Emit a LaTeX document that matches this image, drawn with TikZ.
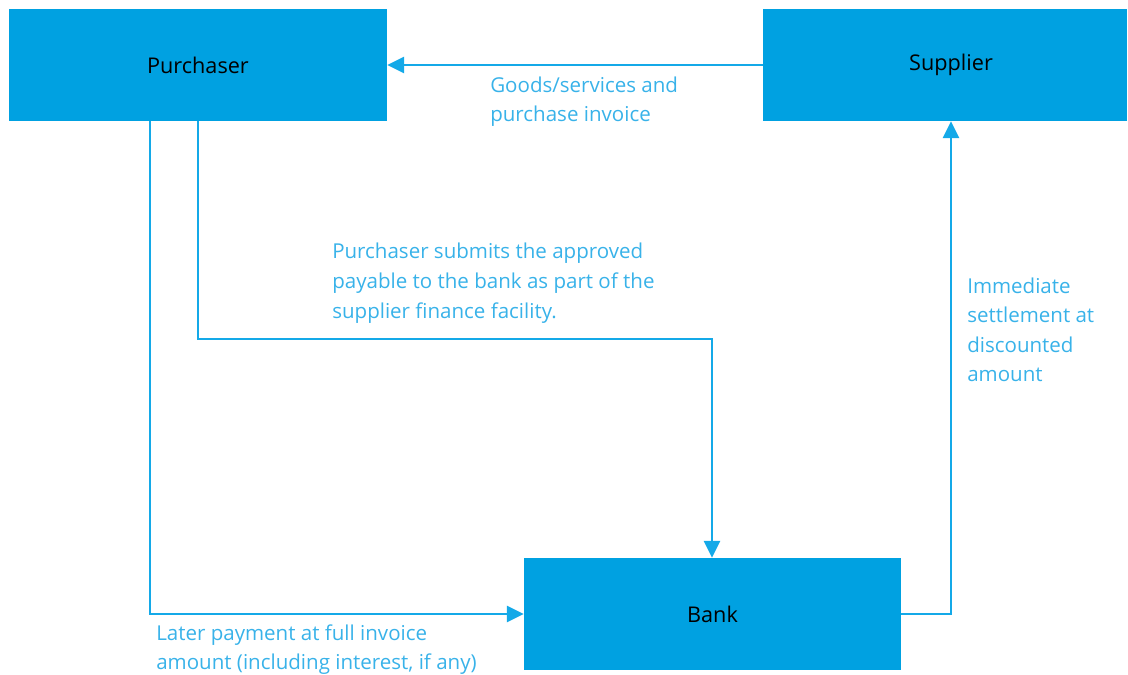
\documentclass[tikz,border=0pt]{standalone}
\usepackage{fontspec}
\setmainfont{Open Sans}
\usetikzlibrary{arrows.meta}
\definecolor{boxblue}{HTML}{00A1E1}
\definecolor{lineblue}{HTML}{14A9E8}
\definecolor{textblue}{HTML}{38B2E9}
\tikzstyle{party}=[shape=rectangle,
                   fill=boxblue,
                   minimum height=2.8cm,
                   inner sep=0pt,
                   font=\fontsize{15.4}{21}\selectfont]
\tikzstyle{lbl}=[anchor=base west,
                 inner sep=0pt,
                 align=left,
                 text=textblue,
                 font=\fontsize{14.6}{21}\selectfont]
\tikzstyle{flow}=[draw=lineblue,
                  line width=2pt,
                  -{Triangle[length=0.42cm,width=0.4cm]}]

\begin{document}
\begin{tikzpicture}
\useasboundingbox (0,0) rectangle (28.2,-16.85);

\node[party,minimum width=9.45cm]  (pur)  at (4.95,-1.625)    {Purchaser};
\node[party,minimum width=9.1cm]   (sup)  at (23.625,-1.625)  {\hspace*{0.3cm}Supplier};
\node[party,minimum width=9.425cm] (bank) at (17.8125,-15.35) {Bank};

\coordinate (c1) at (17.8,-8.475);
\coordinate (c2) at (23.775,-15.35);

\draw[flow] (sup.west) -- (pur.east);
\draw[flow] (pur.south) |- (c1) -- (c1 |- bank.north);
\draw[flow] ([xshift=-1.2cm]pur.south) |- (bank.west);
\draw[flow] (bank.east) -- (c2) -- (c2 |- sup.south);

% base is the last line
\node[lbl] (l1) at (12.25,-3.04)   {Goods/services and\\purchase invoice};
\node[lbl] (l2) at (8.3,-7.95)     {Purchaser submits the approved\\payable to the bank as part of the\\supplier finance facility.};
\node[lbl] (l3) at (3.9,-16.74)    {Later payment at full invoice\\amount (including interest, if any)};
\node[lbl] (l4) at (24.175,-9.54)  {Immediate\\settlement at\\discounted\\amount};
\end{tikzpicture}
\end{document}
